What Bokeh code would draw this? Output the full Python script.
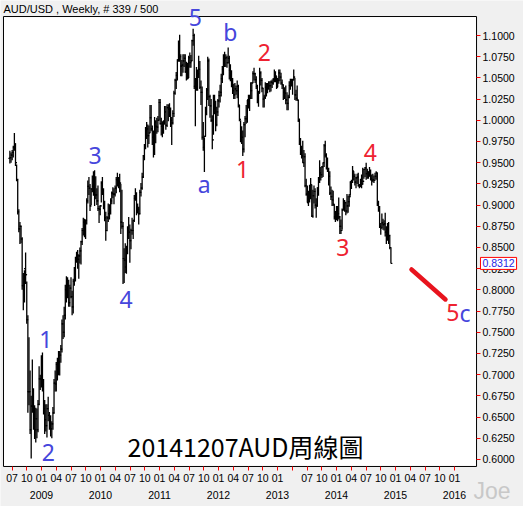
import numpy as np
import pandas as pd
from bokeh.plotting import figure
from bokeh.models import (FixedTicker, LinearAxis, NumeralTickFormatter, Label, BoxAnnotation,
                          Range1d, ColumnDataSource)
from bokeh.embed import file_html
from bokeh.resources import INLINE

# ---------------- data (weekly AUD/USD, weeks starting Monday) ----------------
first_week = "2008-06-16"

high_2008 = [.9640, .9620, .9650, .9700, .9850, .9730, .9480, .9310, .8950, .8800, .8760, .8620, .8200, .8230,
             .8440, .8100, .7700, .7440, .7050, .6750, .7180, .6840, .6640, .6610, .6600, .6700, .7100, .7000, .7230]
low_2008 = [.9490, .9500, .9530, .9560, .9640, .9460, .9280, .8890, .8680, .8540, .8550, .8000, .7760, .7850,
            .8070, .7600, .6550, .6640, .6300, .6010, .6550, .6350, .6240, .6200, .6250, .6320, .6640, .6820, .6850]
close_2008 = [.9560, .9590, .9620, .9680, .9720, .9500, .9300, .8920, .8720, .8750, .8600, .8050, .8000, .8250,
              .8180, .7650, .6800, .6800, .6350, .6630, .6800, .6500, .6350, .6480, .6350, .6650, .6950, .6950, .7050]

high_2009 = [.7260, .6950, .6700, .6650, .6650, .6740, .6560, .6520, .6450, .6620, .6950, .7050, .7150,
             .7200, .7280, .7280, .7350, .7650, .7700, .7800, .8060, .8160, .8150, .8120, .8060, .8150,
             .7990, .8130, .8270, .8390, .8450, .8470, .8420, .8500, .8580, .8730, .8850, .8840, .8830,
             .9080, .9290, .9330, .9250, .9200, .9350, .9400, .9410, .9340, .9200, .9230, .8990, .9000]
low_2009 = [.6800, .6530, .6300, .6330, .6260, .6450, .6350, .6270, .6250, .6350, .6540, .6800, .6800,
            .6930, .7000, .6990, .7140, .7260, .7420, .7440, .7650, .7850, .7900, .7800, .7800, .7900,
            .7700, .7720, .8050, .8100, .8320, .8250, .8130, .8310, .8300, .8530, .8640, .8620, .8600,
            .8770, .9020, .9120, .8930, .9000, .9150, .9110, .8990, .9070, .9000, .8930, .8790, .8880]
close_2009 = [.6900, .6600, .6470, .6400, .6600, .6520, .6420, .6360, .6420, .6550, .6900, .6890, .7120,
              .7000, .7150, .7230, .7300, .7600, .7500, .7700, .8000, .8000, .8050, .7850, .8020, .7920,
              .7800, .8100, .8200, .8380, .8410, .8360, .8400, .8460, .8570, .8700, .8800, .8700, .8820,
              .9050, .9220, .9200, .8990, .9190, .9220, .9150, .9120, .9120, .9050, .8960, .8950, .8990]

high_2010 = [.9280, .9330, .9200, .9050, .8920, .8870, .9020, .9010, .9080, .9160, .9210, .9200, .9230,
             .9330, .9380, .9330, .9370, .9250, .9180, .8800, .8490, .8550, .8520, .8750, .8860, .8770,
             .8720, .8850, .8820, .9120, .9200, .9150, .9020, .8980, .9180, .9260, .9380, .9590, .9720,
             .9920, .9980, .9950, .9940, 1.0180, 1.0180, .9940, .9880, 1.0040, 1.0000, 1.0030, 1.0050, 1.0250]
low_2010 = [.9030, .9120, .8950, .8810, .8580, .8690, .8800, .8830, .8890, .9010, .9080, .9010, .9100,
            .9140, .9220, .9200, .9150, .8660, .8720, .8070, .8080, .8200, .8190, .8420, .8600, .8320,
            .8480, .8650, .8600, .8800, .9050, .8880, .8900, .8770, .8890, .9100, .9180, .9320, .9530,
            .9660, .9780, .9680, .9720, .9850, .9870, .9710, .9560, .9590, .9730, .9840, .9860, 1.0000]
close_2010 = [.9260, .9180, .9000, .8850, .8700, .8850, .8900, .8930, .9050, .9140, .9130, .9130, .9200,
              .9300, .9250, .9270, .9260, .8800, .8750, .8370, .8350, .8270, .8450, .8700, .8680, .8580,
              .8700, .8700, .8820, .9080, .9100, .8920, .8950, .8900, .9150, .9200, .9330, .9580, .9700,
              .9880, .9900, .9820, .9850, 1.0030, .9900, .9800, .9610, .9980, .9930, .9920, 1.0000, 1.0210]

high_2011 = [1.0250, 1.0030, .9990, 1.0000, 1.0170, 1.0170, 1.0190, 1.0190, 1.0200, 1.0150, 1.0040, 1.0120, 1.0350,
             1.0490, 1.0570, 1.0720, 1.0940, 1.1010, 1.0780, 1.0710, 1.0780, 1.0780, 1.0780, 1.0690, 1.0680, 1.0760,
             1.0800, 1.0770, 1.0950, 1.1080, 1.1020, 1.0500, 1.0630, 1.0600, 1.0760, 1.0700, 1.0470, 1.0400, .9980,
             .9800, 1.0160, 1.0380, 1.0750, 1.0730, 1.0300, 1.0250, 1.0060, 1.0300, 1.0300, 1.0230, 1.0160, 1.0250]
low_2011 = [.9950, .9820, .9800, .9840, .9950, .9890, .9920, .9990, 1.0040, .9920, .9710, .9950, 1.0040,
            1.0300, 1.0370, 1.0470, 1.0690, 1.0690, 1.0520, 1.0520, 1.0560, 1.0630, 1.0560, 1.0470, 1.0480, 1.0500,
            1.0620, 1.0620, 1.0700, 1.0880, 1.0370, .9930, 1.0350, 1.0350, 1.0500, 1.0370, 1.0180, .9770, .9640,
            .9390, .9810, 1.0060, 1.0240, 1.0170, 1.0030, .9980, .9660, .9830, 1.0070, .9870, .9930, 1.0050]
close_2011 = [.9960, .9930, .9920, .9960, 1.0100, .9940, 1.0150, 1.0130, 1.0120, 1.0000, .9970, 1.0080, 1.0320,
              1.0470, 1.0530, 1.0710, 1.0880, 1.0750, 1.0640, 1.0650, 1.0700, 1.0730, 1.0570, 1.0610, 1.0500, 1.0740,
              1.0680, 1.0700, 1.0940, 1.1000, 1.0400, 1.0400, 1.0400, 1.0550, 1.0600, 1.0390, 1.0330, .9800, .9680,
              .9810, 1.0100, 1.0360, 1.0700, 1.0280, 1.0170, 1.0000, .9770, 1.0240, 1.0140, .9950, 1.0100, 1.0230]

high_2012 = [1.0350, 1.0420, 1.0550, 1.0640, 1.0780, 1.0810, 1.0780, 1.0760, 1.0860, 1.0760, 1.0660, 1.0590, 1.0500,
             1.0430, 1.0440, 1.0410, 1.0470, 1.0420, 1.0180, 1.0000, .9930, .9880, .9980, 1.0050, 1.0180, 1.0240,
             1.0300, 1.0300, 1.0450, 1.0450, 1.0580, 1.0620, 1.0560, 1.0520, 1.0420, 1.0350, 1.0620, 1.0580, 1.0500,
             1.0380, 1.0300, 1.0450, 1.0440, 1.0440, 1.0460, 1.0460, 1.0470, 1.0480, 1.0500, 1.0600, 1.0580, 1.0520,
             1.0500]
low_2012 = [1.0150, 1.0210, 1.0280, 1.0440, 1.0530, 1.0630, 1.0630, 1.0620, 1.0670, 1.0480, 1.0460, 1.0390, 1.0310,
            1.0250, 1.0250, 1.0300, 1.0260, 1.0150, .9990, .9740, .9720, .9580, .9620, .9800, .9960, .9970,
            1.0140, 1.0110, 1.0250, 1.0250, 1.0440, 1.0470, 1.0440, 1.0370, 1.0200, 1.0160, 1.0320, 1.0410, 1.0330,
            1.0150, 1.0150, 1.0250, 1.0280, 1.0320, 1.0360, 1.0330, 1.0340, 1.0380, 1.0420, 1.0450, 1.0450, 1.0370,
            1.0390]
close_2012 = [1.0290, 1.0330, 1.0490, 1.0600, 1.0700, 1.0730, 1.0740, 1.0680, 1.0730, 1.0590, 1.0520, 1.0450, 1.0350,
              1.0300, 1.0370, 1.0350, 1.0400, 1.0180, 1.0010, .9760, .9800, .9660, .9950, 1.0020, 1.0020, 1.0240,
              1.0190, 1.0260, 1.0350, 1.0440, 1.0550, 1.0550, 1.0480, 1.0400, 1.0300, 1.0320, 1.0560, 1.0470, 1.0380,
              1.0250, 1.0270, 1.0390, 1.0360, 1.0380, 1.0410, 1.0410, 1.0450, 1.0440, 1.0480, 1.0510, 1.0520, 1.0390,
              1.0470]

high_2013 = [1.0600, 1.0600, 1.0560, 1.0480, 1.0420, 1.0390, 1.0410, 1.0330, 1.0300, 1.0460, 1.0490, 1.0490,
             1.0490, 1.0600, 1.0500, 1.0360, 1.0410, 1.0240, 1.0020, .9790, .9700, .9760, .9650, .9610, .9310,
             .9230, .9170, .9240, .9320, .9240, .9180, .9230, .9200, .9080, .9210, .9330, .9530, .9450, .9460,
             .9500, .9720, .9760, .9610, .9560, .9440, .9400, .9220, .9180, .9170, .9010, .8930, .8990]
low_2013 = [1.0430, 1.0460, 1.0420, 1.0370, 1.0240, 1.0250, 1.0190, 1.0120, 1.0120, 1.0260, 1.0360, 1.0400,
            1.0300, 1.0470, 1.0240, 1.0230, 1.0230, .9980, .9710, .9590, .9550, .9500, .9450, .9210, .9110,
            .9030, .8990, .9030, .9070, .8860, .8850, .9020, .8960, .8850, .8980, .9110, .9260, .9290, .9320,
            .9330, .9450, .9560, .9420, .9390, .9230, .9120, .9060, .8990, .8990, .8830, .8800, .8820]
close_2013 = [1.0560, 1.0510, 1.0440, 1.0420, 1.0330, 1.0320, 1.0240, 1.0200, 1.0270, 1.0410, 1.0450, 1.0420,
              1.0480, 1.0510, 1.0300, 1.0260, 1.0240, 1.0000, .9730, .9680, .9580, .9500, .9570, .9230, .9130,
              .9030, .9140, .9100, .9240, .8870, .9110, .9160, .9000, .8990, .9200, .9280, .9380, .9360, .9450,
              .9500, .9700, .9590, .9450, .9400, .9340, .9140, .9100, .9060, .9010, .8860, .8920, .8900]

high_2014 = [.8990, .9090, .8870, .8830, .8960, .9080, .9060, .9040, .9130, .9110, .9130, .9280, .9300,
             .9460, .9400, .9370, .9330, .9370, .9380, .9250, .9310, .9360, .9440, .9430, .9450, .9500,
             .9430, .9400, .9450, .9420, .9360, .9370, .9350, .9380, .9400, .9380, .9050, .8990, .8790,
             .8900, .8840, .8820, .8910, .8750, .8790, .8800, .8650, .8500]
low_2014 = [.8810, .8830, .8660, .8660, .8710, .8940, .8920, .8880, .8900, .8910, .8980, .9110, .9190,
            .9260, .9290, .9230, .9200, .9250, .9220, .9200, .9210, .9200, .9240, .9310, .9330, .9300,
            .9310, .9310, .9340, .9290, .9230, .9270, .9260, .9300, .9300, .8990, .8920, .8730, .8650,
            .8730, .8710, .8700, .8630, .8540, .8580, .8540, .8480, .8310]
close_2014 = [.8900, .8860, .8750, .8700, .8940, .9030, .9030, .8930, .8990, .9040, .9100, .9270, .9280,
              .9400, .9340, .9270, .9320, .9330, .9230, .9220, .9290, .9250, .9280, .9420, .9440, .9370,
              .9390, .9340, .9400, .9310, .9290, .9300, .9290, .9340, .9380, .9020, .8960, .8750, .8730,
              .8790, .8770, .8780, .8680, .8610, .8710, .8640, .8500, .8312]

first_open = 0.9550
last_price = 0.8312

y_ticks = [0.600, 0.625, 0.650, 0.675, 0.700, 0.725, 0.750, 0.775, 0.800, 0.825, 0.850,
           0.875, 0.900, 0.925, 0.950, 0.975, 1.000, 1.025, 1.050, 1.075, 1.100]
month_tick_labels = ["07", "10",
                     "01", "04", "07", "10", "01", "04", "07", "10", "01", "04", "07", "10",
                     "01", "04", "07", "10", "01", "", "07", "10", "01", "04", "07", "10",
                     "01", "04", "07", "10", "01"]
year_tick_labels = ["2009", "2010", "2011", "2012", "2013", "2014", "2015", "2016"]

# Elliott-wave annotations (text, month position, price, colour)
wave_text = ["1", "2", "3", "4", "5", "a", "b", "1", "2", "3", "4"]
wave_x = [12.9, 13.4, 22.9, 29.2, 43.3, 45.1, 50.4, 52.9, 57.3, 73.3, 78.9]
wave_y = [0.7415, 0.6082, 0.9585, 0.7886, 1.1212, 0.9243, 1.1047, 0.9419, 1.0799, 0.8500, 0.9620]
wave_col = ["blue", "blue", "blue", "blue", "blue", "blue", "blue", "red", "red", "red", "red"]
proj_x = [87.25, 94.16]
proj_y = [0.8241, 0.7887]

# ---------------- geometry ----------------
# chart area (months since Jan 2008 / price) and whole canvas in the same units
area_x = (4.27, 100.48)
area_y = (0.5917, 1.1224)
canvas_x = (3.66, 110.03)
canvas_y = (0.5445, 1.1413)

# ---------------- build ----------------
high = high_2008 + high_2009 + high_2010 + high_2011 + high_2012 + high_2013 + high_2014
low = low_2008 + low_2009 + low_2010 + low_2011 + low_2012 + low_2013 + low_2014
close = close_2008 + close_2009 + close_2010 + close_2011 + close_2012 + close_2013 + close_2014
n = len(close)
openp = [first_open] + close[:-1]

d = pd.date_range(first_week, periods=n, freq="W-MON") + pd.Timedelta(days=2)
x = np.asarray((d.year - 2008) * 12 + (d.month - 1) + (d.day - 1) / d.days_in_month, dtype=float)
tk = 0.3
src = ColumnDataSource(dict(x=x, xl=x - tk, xr=x + tk, h=high, l=low, o=openp, c=close))

BLUE = "#4646dc"
RED = "#ee2230"
GRAY = "#f0f0f0"

p = figure(width=523, height=506, x_range=Range1d(*canvas_x), y_range=Range1d(*canvas_y),
           output_backend="svg", toolbar_location=None, x_axis_location=None, y_axis_location=None,
           min_border_left=0, min_border_right=0, min_border_top=0, min_border_bottom=0)
p.background_fill_color = GRAY
p.border_fill_color = GRAY
p.outline_line_color = None
p.grid.visible = False
p.title.visible = False

# white chart area with black border
p.add_layout(BoxAnnotation(left=area_x[0], right=area_x[1], bottom=area_y[0], top=area_y[1],
                           fill_color="white", fill_alpha=1.0, line_color="black", line_alpha=1.0,
                           line_width=1, level="underlay"))

yax = LinearAxis(ticker=FixedTicker(ticks=y_ticks), formatter=NumeralTickFormatter(format="0.0000"),
                 fixed_location=area_x[1])
xax = LinearAxis(ticker=FixedTicker(ticks=[6 + 3 * i for i in range(len(month_tick_labels))]),
                 major_label_overrides={6 + 3 * i: s for i, s in enumerate(month_tick_labels)},
                 fixed_location=area_y[0])
yrax = LinearAxis(ticker=FixedTicker(ticks=[12 * (i + 1) for i in range(len(year_tick_labels))]),
                  major_label_overrides={12 * (i + 1): s for i, s in enumerate(year_tick_labels)},
                  fixed_location=area_y[0])
for ax in (yax, xax, yrax):
    ax.axis_line_color = None
    ax.minor_tick_line_color = None
    ax.major_tick_line_color = "red"
    ax.major_tick_in = 0
    ax.major_tick_out = 4
    ax.major_label_text_font = "Liberation Sans"
    ax.major_label_text_font_size = "10.5px"
    ax.major_label_text_color = "black"
yax.major_label_standoff = 2
xax.major_label_standoff = 4
yrax.major_tick_line_color = None
yrax.major_tick_out = 0
yrax.major_label_standoff = 25
p.add_layout(yax, "right")
p.add_layout(xax, "below")
p.add_layout(yrax, "below")

# OHLC bars
p.segment(x0="x", y0="l", x1="x", y1="h", source=src, line_color="black", line_width=1.3)
p.segment(x0="xl", y0="o", x1="x", y1="o", source=src, line_color="black", line_width=1.2)
p.segment(x0="x", y0="c", x1="xr", y1="c", source=src, line_color="black", line_width=1.2)

# projection line
p.line(proj_x, proj_y, line_color="#e8141e", line_width=4.5, line_cap="round")

for t, wx, wy, c in zip(wave_text, wave_x, wave_y, wave_col):
    p.add_layout(Label(x=wx, y=wy, text=t, text_color=BLUE if c == "blue" else RED,
                       text_font="Noto Sans", text_font_size="23px",
                       text_align="center", text_baseline="alphabetic"))
# "5c" at the end of the projection
p.add_layout(Label(x=97.0, y=0.7733, text="5", text_color=RED, text_font="Noto Sans",
                   text_font_size="23px", text_align="right", text_baseline="alphabetic"))
p.add_layout(Label(x=97.0, y=0.7733, text="c", text_color=BLUE, text_font="Noto Sans",
                   text_font_size="23px", text_align="left", text_baseline="alphabetic"))

# caption
p.add_layout(Label(x=53.5, y=0.6153, text="20141207AUD周線圖", text_color="black",
                   text_font="Noto Sans CJK TC", text_font_size="25px",
                   text_align="center", text_baseline="alphabetic"))

# header text
p.add_layout(Label(x=area_x[0], y=1.1389, text="AUD/USD , Weekly, # 339 / 500", text_color="black",
                   text_font="Liberation Sans", text_font_size="11px",
                   text_align="left", text_baseline="top"))

# last price tag
p.add_layout(Label(x=101.28, y=last_price, text=f"{last_price:.4f}", text_color="#1e1ee6",
                   text_font="Liberation Sans", text_font_size="10.5px",
                   text_align="left", text_baseline="middle",
                   background_fill_color="white", border_line_color="red", border_line_width=1,
                   padding=2))

# watermark
p.add_layout(Label(x=103.62, y=0.5623, text="Joe", text_color="#c8c8c8",
                   text_font="Liberation Sans", text_font_size="23px",
                   text_align="center", text_baseline="alphabetic"))

open("out.html", "w").write(file_html(p, INLINE))
